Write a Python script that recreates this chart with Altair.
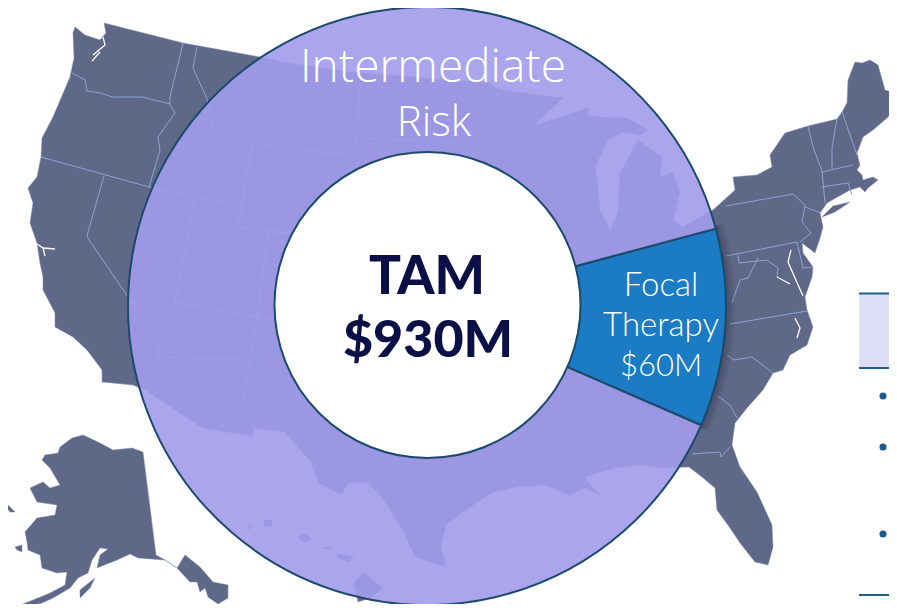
import altair as alt

# ---- map (map units) ----
lower48 = [(104,23),(183,43),(260,57),(283,62),(350,72),(427,78),(490,83),(495,88),(517,92),(563,98),(533,126),
 (567,115),(590,107),(587,115),(603,117),(627,118),(648,130),(640,135),(623,132),(608,140),(595,167),(598,187),(600,210),(610,230),
 (618,213),(620,173),(638,140),(662,157),(660,177),(672,172),(680,193),(673,220),(683,227),(700,217),(713,210),
 (735,190),(733,177),(757,175),(772,167),(770,155),(785,133),(808,126),(837,119),(842,112),(847,103),(848,80),(855,62),(862,63),(870,60),(878,65),(885,90),(892,92),(897,108),(887,118),(873,130),(863,137),(857,153),(860,165),(857,170),(862,175),(863,180),(873,177),(878,180),(868,188),(865,192),(860,187),(850,190),(827,203),(820,213),
 (823,227),(820,238),(815,253),(802,243),(803,253),(813,267),(812,277),(805,297),(807,310),(813,327),(807,345),(790,355),(783,370),(773,373),(763,390),(747,408),(735,423),(732,445),(740,467),(757,492),(772,525),(773,547),(768,565),(755,562),(740,543),(730,528),(717,510),(715,488),(702,477),(689,467),
 (659,468),(640,465),(615,468),(585,477),(589,483),(600,495),(585,488),(570,495),(544,485),(515,487),(491,493),(463,512),(446,525),(441,547),(446,567),(415,557),(404,532),(382,497),(367,482),(348,483),(341,495),(319,483),(311,462),(285,432),(254,428),(252,436),(202,428),(145,390),(133,385),(102,382),
 (102,370),(87,350),(73,337),(55,327),(55,313),(43,290),(43,277),(40,263),(37,243),(30,223),(33,203),(28,188),(37,177),(41,157),(42,138),(53,117),(70,77),(74,58),(73,33),(75,27),(85,35),(100,40),(106,33)]
long_island = [(850,202),(835,212),(822,217),(833,206)]
alaska = [(83,435),(98,442),(113,450),(132,448),(143,452),(156,555),(165,560),(177,568),(185,555),(200,567),(213,582),(228,585),(228,598),(218,604),(208,597),(205,588),(200,592),(197,582),(190,582),(177,568),(165,560),(138,558),(130,554),(117,560),(97,568),(100,555),(108,549),(100,548),(92,560),(88,573),(78,578),(70,588),(53,598),(42,603),(23,608),(13,608),(33,600),(50,593),(65,585),(67,572),(57,573),(42,568),(40,555),(28,550),(27,542),(25,532),(37,518),(55,515),(57,505),(37,502),(30,488),(43,482),(50,488),(60,485),(50,468),(42,460),(45,455),(58,453),(60,447),(72,438)]
ak_islands = [[(3,502),(8,505),(15,512),(10,512)],[(15,547),(22,545),(22,552),(17,550)],[(80,590),(95,578),(90,588),(80,598)]]
hawaii = [[(354,583),(363,572),(383,588),(370,598),(358,602)],[(337,553),(354,557),(348,562),(337,557)],[(322,547),(333,548),(328,550)],[(298,537),(306,533),(311,540),(304,543)],[(263,520),(272,520),(272,525),(265,527)],[(248,527),(252,523),(250,530)]]
borders = [
 [(72,73),(85,80),(87,91),(100,93),(113,97),(142,97),(170,104)],
 [(183,43),(170,97),(170,104),(175,113),(158,137),(160,150),(149,187)],
 [(41,157),(149,187),(195,197),(240,205)],
 [(104,176),(88,232),(87,237),(124,291),(157,338),(160,357),(147,377),(143,388)],
 [(197,47),(193,68),(207,99),(213,127),(222,150),(248,150)],
 [(252,143),(300,150),(353,155)],
 [(252,143),(238,227),(287,233),(268,232),(257,317),(243,400)],
 [(195,197),(175,302),(172,318),(158,318)],
 [(175,302),(257,317),(300,322)],
 [(160,357),(250,360)],
 [(360,83),(357,140),(353,155)],
 [(360,138),(463,143)],
 [(490,83),(463,143)],
 [(726,206),(793,194),(805,205),(802,222),(811,233),(800,242)],
 [(805,207),(821,213)],
 [(726,256),(797,242),(803,268),(813,267)],
 [(738,255),(739,263),(767,260),(778,268),(777,277)],
 [(758,258),(748,278),(740,280),(732,303)],
 [(808,126),(813,147),(822,171),(825,203)],
 [(837,119),(832,147),(832,169)],
 [(842,112),(857,155)],
 [(822,172),(853,165)],
 [(822,187),(848,183),(852,195)],
 [(730,324),(807,311)],
 [(727,355),(734,360),(752,357),(773,373)],
 [(718,396),(730,405),(737,418)],
 [(692,454),(720,452),(721,457),(730,447)],
 [(640,340),(640,465)],
 [(560,360),(560,480)],
 [(515,400),(515,487)],
]
water = [
 [(103,37),(105,45),(93,55)],[(100,52),(92,61)],
 [(37,244),(43,248),(55,249)],[(43,248),(45,256)],
 [(791,250),(788,262),(795,278),(803,296)],
 [(777,277),(790,284)],
 [(795,318),(800,328),(797,338)],
]

# ---- donut values (share of the circle as drawn) ----
segments = ["Focal Therapy", "Intermediate Risk"]
shares = [38.5, 321.5]
seg_colors = ["#1B7BC4", "#A39CEB"]
seg_opacity = [1.0, 0.91]

labels_open = [("Intermediate", 433, 82, 46), ("Risk", 434, 136, 42)]
labels_lato = [("Focal", 661, 296, 33), ("Therapy", 661, 336, 33), ("$60M", 661, 376, 31)]
labels_dark = [("TAM", 427, 294, 53), ("$930M", 428, 357, 52)]
rule_rows = [293.5, 368, 595]
bullet_rows = [396, 447, 534]

W, H = 881, 596
OX, OY = 8, 8
RING = 299
CENTER = (427, 306)
HOLE_CENTER = (427.5, 305)
DEG = 3.14159265 / 180
START = 75 * DEG

def close(p):
    return [list(q) for q in p] + [list(p[0])]

def poly(p):
    return {"type": "Feature", "properties": {}, "geometry": {"type": "Polygon", "coordinates": [close(p)]}}

def line(p):
    return {"type": "Feature", "properties": {}, "geometry": {"type": "LineString", "coordinates": [list(q) for q in p]}}

proj = dict(type="identity", scale=1, translate=[-OX, -OY])

land = alt.Chart(alt.Data(values=[poly(p) for p in [lower48, long_island, alaska] + ak_islands + hawaii])).mark_geoshape(
    fill="#5F6887", stroke="#7F8FB8", strokeWidth=0.5).project(**proj)
state = alt.Chart(alt.Data(values=[line(p) for p in borders])).mark_geoshape(
    filled=False, stroke="#8FA3D6", strokeWidth=1).project(**proj)
lakes = alt.Chart(alt.Data(values=[line(p) for p in water])).mark_geoshape(
    filled=False, stroke="#FFFFFF", strokeWidth=1.3).project(**proj)

glow = [alt.Chart(alt.Data(values=[{"a": 1}])).mark_arc(
    outerRadius=RING + g, innerRadius=140, theta=START - 0.01, theta2=START + shares[0] * DEG + 0.01,
    fill="#000000", opacity=0.07).encode(
    x=alt.value(CENTER[0] - OX), y=alt.value(CENTER[1] - OY)) for g in (3, 6, 9)]

seg_data = alt.Data(values=[{"name": n, "share": s, "ord": i} for i, (n, s) in enumerate(zip(segments, shares))])
ring = alt.Chart(seg_data).mark_arc(outerRadius=RING, innerRadius=140, stroke="#1C4A6B", strokeWidth=2).encode(
    x=alt.value(CENTER[0] - OX), y=alt.value(CENTER[1] - OY),
    theta=alt.Theta("share:Q", stack=True, scale=alt.Scale(domain=[0, sum(shares)], range=[START, START + 360 * DEG])),
    order=alt.Order("ord:Q"),
    fill=alt.Fill("name:N", scale=alt.Scale(domain=segments, range=seg_colors), legend=None),
    fillOpacity=alt.FillOpacity("name:N", scale=alt.Scale(domain=segments, range=seg_opacity), legend=None),
)
hole = alt.Chart(alt.Data(values=[{"a": 1}])).mark_arc(
    outerRadius=153, innerRadius=0, theta=0, theta2=6.2832, fill="#FFFFFF", stroke="#1C4A6B", strokeWidth=2).encode(
    x=alt.value(HOLE_CENTER[0] - OX), y=alt.value(HOLE_CENTER[1] - OY))

def txt(rows, color, weight, font):
    out = []
    for t, x, y, s in rows:
        out.append(alt.Chart(alt.Data(values=[{"t": t}])).mark_text(
            font=font, fontSize=s, fontWeight=weight, color=color, align="center", baseline="alphabetic").encode(
            text="t:N", x=alt.value(x - OX), y=alt.value(y - OY)))
    return out

panel = alt.Chart(alt.Data(values=[{"a": 1}])).mark_rect(fill="#DEDEF6").encode(
    x=alt.value(859 - OX), x2=alt.value(W), y=alt.value(294 - OY), y2=alt.value(368 - OY))
rules = [alt.Chart(alt.Data(values=[{"a": 1}])).mark_rule(stroke="#1F5F8F", strokeWidth=2).encode(
    x=alt.value(859 - OX), x2=alt.value(W), y=alt.value(r - OY)) for r in rule_rows]
bullets = [alt.Chart(alt.Data(values=[{"a": 1}])).mark_point(filled=True, size=50, color="#1A5A8C", opacity=1).encode(
    x=alt.value(883 - OX), y=alt.value(b - OY)) for b in bullet_rows]

chart = alt.layer(land, state, lakes, *glow, ring, hole, panel, *rules, *bullets,
                  *txt(labels_open, "#FFFFFF", 300, "Open Sans"),
                  *txt(labels_lato, "#FFFFFF", 300, "Lato"),
                  *txt(labels_dark, "#0A1045", 900, "Lato")).properties(
    width=W, height=H, padding=0, background="#FFFFFF",
    autosize=alt.AutoSizeParams(type="none")).configure_view(stroke=None)

chart.save("out.html", embed_options={"renderer": "svg", "actions": False})
